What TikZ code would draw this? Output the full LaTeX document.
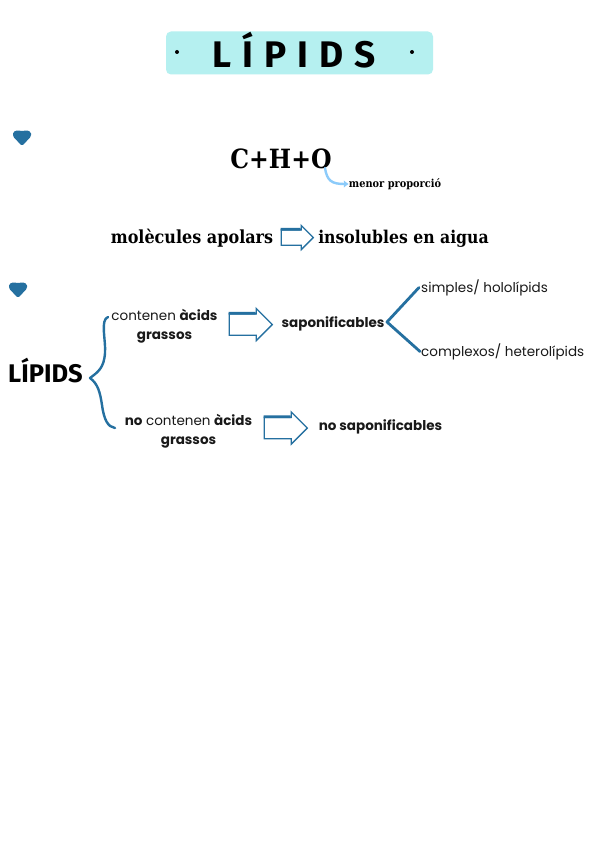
\documentclass[tikz,border=0pt]{standalone}
\usepackage{fontspec}
\usetikzlibrary{shapes.arrows,positioning,arrows.meta}
\setmainfont{Poppins}
\newfontfamily\slabfont[FakeStretch=0.89]{DejaVu Serif}
\newfontfamily\titlefont{Fira Sans}
\definecolor{titlebg}{HTML}{B5F0F0}
\definecolor{darkblue}{HTML}{2570A0}
\definecolor{lightblue}{HTML}{8CCBFA}
\newcommand{\heartAt}[2]{\fill[darkblue, rounded corners=1.5pt] (#1-9,#2-6) -- (#1-4,#2-8) -- (#1,#2-6.5) -- (#1+4,#2-8) -- (#1+9,#2-6) -- (#1+9,#2-1.5) -- (#1,#2+8) -- (#1-9,#2-1.5) -- cycle;}
\tikzset{
  body/.style={font=\fontsize{13.5}{19}\selectfont, text=black!90, align=center, inner sep=0pt},
  slab/.style={font=\slabfont\bfseries\fontsize{18}{22}\selectfont, inner sep=0pt},
  hollow/.style={single arrow, draw=darkblue, line width=1.3pt, fill=white, inner xsep=0pt, inner ysep=10pt,
    single arrow head extend=5.5pt, single arrow tip angle=90, shape border rotate=0},
  brace/.style={draw=darkblue, line width=2.4pt, line cap=round, line join=round},
}
\begin{document}
\begin{tikzpicture}[x=1pt, y=-1pt]
  \useasboundingbox (0,0) rectangle (600,848);
  \fill[white] (0,0) rectangle (600,848);
  \node[fill=titlebg, rounded corners=5pt, minimum width=267pt, minimum height=43pt, inner sep=0pt] (title) at (299.5,53) {};
  \node[font=\titlefont\bfseries\fontsize{37}{37}\selectfont] (titletext) at (294,50) {L\hspace{11pt}Í\hspace{11pt}P\hspace{11pt}I\hspace{11pt}D\hspace{11pt}S};
  \fill[black] (177,52) circle (2pt) (412,52) circle (2pt);
  \heartAt{22}{138}
  \heartAt{18}{290}
  \node[slab, font=\slabfont\bfseries\fontsize{26.5}{26.5}\selectfont] (chp) at (281,159) {C+H+O};
  \node[slab, font=\slabfont\bfseries\fontsize{11}{12}\selectfont] (menor) at (395,184) {menor proporció};
  \draw[lightblue, line width=2.4pt, line cap=round, -{Latex[length=5pt,width=8pt]}] (325,168) .. controls (327,181) and (332,184) .. (menor.west);
  \node[slab] (apolars) at (192,238.5) {molècules apolars};
  \node[slab, font=\slabfont\bfseries\fontsize{17.6}{22}\selectfont] (aigua) at (403.5,238.5) {insolubles en aigua};
  \node[hollow, inner ysep=7pt, single arrow head extend=4.5pt, minimum height=32pt] (arrow-1) at (293.5,237.5) {};
  \node[slab, font=\titlefont\bfseries\fontsize{25.5}{27}\selectfont] (lipids) at (45.5,371) {LÍPIDS};
  \node[body] (conten) at (164.5,326.5) {contenen \textbf{àcids}\\\textbf{grassos}};
  \node[body] (noconten) at (188.5,431.5) {\textbf{no} contenen \textbf{àcids}\\\textbf{grassos}};
  \node[hollow, minimum height=43pt] (arrow-2) at (245.5,324.5) {};
  \node[hollow, minimum height=43pt] (arrow-3) at (280.5,428) {};
  \foreach \arrowName in {arrow-1,arrow-2,arrow-3}
    \draw[darkblue, line width=2.6pt] (\arrowName.before head) -- (\arrowName.after tail);
  \node[body, font=\bfseries\fontsize{13.5}{19}\selectfont] (sapon) at (333,323.5) {saponificables};
  \node[body, font=\bfseries\fontsize{13.5}{19}\selectfont] (nosapon) at (380.5,426.5) {no saponificables};
  \node[body, anchor=west] (simples) at (421,287.5) {simples/ hololípids};
  \node[body, anchor=west] (complexos) at (421,351.5) {complexos/ heterolípids};
  \coordinate (brace-top) at (108,317);
  \coordinate (brace-tip) at (90,378);
  \coordinate (brace-low) at (115,428);
  \draw[brace] (brace-top) .. controls (100,320) and (106,340) .. (105,353) .. controls (104,368) and (98,372) .. (brace-tip) .. controls (98,384) and (100,392) .. (102,405) .. controls (104,420) and (108,427) .. (brace-low);
  \coordinate (fork) at (387,322);
  \draw[brace, line width=2.8pt] ([xshift=-2pt]simples.west) -- (fork) -- ([xshift=-1pt]complexos.west);
\end{tikzpicture}
\end{document}
